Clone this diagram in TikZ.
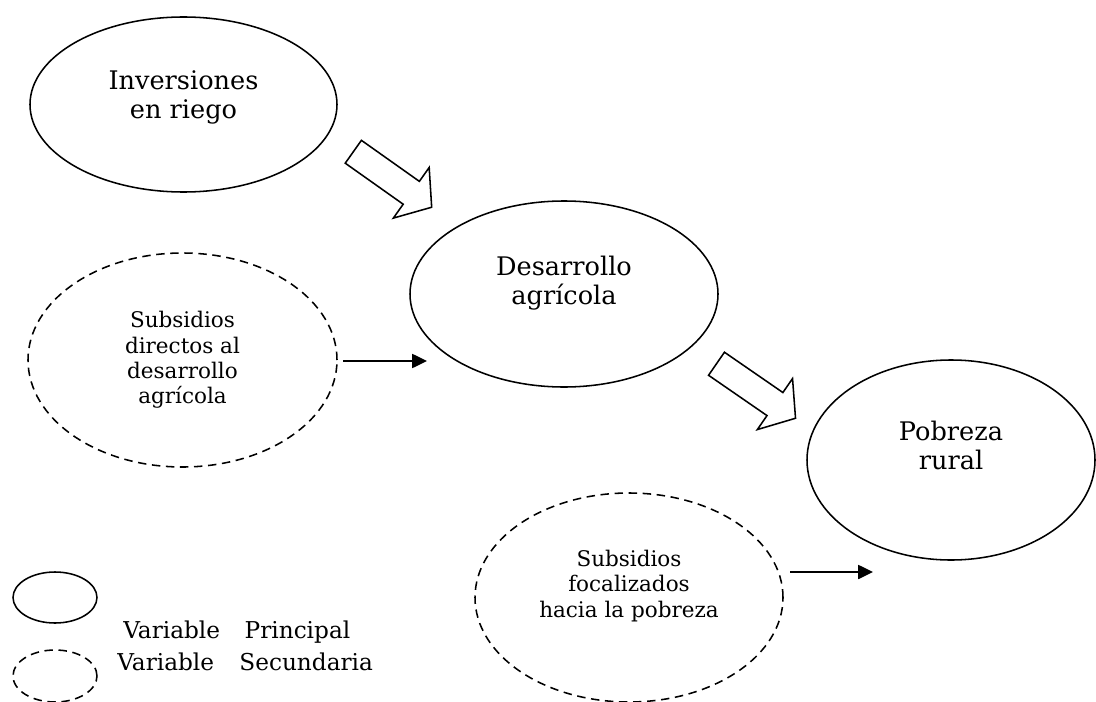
\documentclass[tikz,border=0pt]{standalone}
\usepackage{fontspec}
\setmainfont{DejaVu Serif}
\usetikzlibrary{shapes.geometric,arrows.meta}

\newcommand{\px}{0.025cm}
% flecha de bloque: centro, angulo
\newcommand{\flechagrande}[2]{%
  \draw[line width=1.1pt,line join=miter,shift={#1},rotate=#2]
    (-48,-14) -- (23,-14) -- (23,-31) -- (48,0) -- (23,31) -- (23,14) -- (-48,14) -- cycle;}

\tikzset{
  principal/.style={ellipse,draw,line width=1.1pt,inner sep=0pt},
  secundaria/.style={ellipse,draw,line width=1.1pt,inner sep=0pt,dash pattern=on 6pt off 4pt},
  grande/.style={align=center,font=\fontsize{18.2}{20.6}\selectfont},
  chico/.style={align=center,font=\fontsize{15.3}{18.1}\selectfont},
  leyenda/.style={anchor=west,inner sep=0pt,font=\fontsize{16.5}{19}\selectfont},
  flecha/.style={line width=1.1pt,-{Triangle[length=10.5pt,width=10pt]}}
}

\begin{document}
\begin{tikzpicture}[x=\px,y=-\px]
  \useasboundingbox (0,0) rectangle (1096,702);

  % variables principales
  \node[principal,minimum width=307*\px,minimum height=175*\px] (inv) at (183.5,104.5) {};
  \node[grande] (inv-t) at (183.5,97) {Inversiones\\en riego};
  \node[principal,minimum width=308*\px,minimum height=186*\px] (des) at (564,294) {};
  \node[grande] (des-t) at (564,283) {Desarrollo\\agrícola};
  \node[principal,minimum width=288*\px,minimum height=200*\px] (pob) at (951,460) {};
  \node[grande] (pob-t) at (951,445) {Pobreza\\rural};

  % variables secundarias
  \node[secundaria,minimum width=309*\px,minimum height=214*\px] (sub1) at (182.5,360) {};
  \node[chico] (sub1-t) at (182.5,360) {Subsidios\\directos al\\desarrollo\\agrícola};
  \node[secundaria,minimum width=308*\px,minimum height=209*\px] (sub2) at (629,597.5) {};
  \node[chico] (sub2-t) at (629,586) {Subsidios\\focalizados\\hacia la pobreza};

  % flechas
  \flechagrande{(392.5,179.5)}{-35.3}
  \flechagrande{(756,391)}{-34.6}
  \coordinate (ini1) at (343,361);
  \coordinate (fin1) at (427,361);
  \coordinate (ini2) at (790,572);
  \coordinate (fin2) at (873,572);
  \draw[flecha] (ini1) -- (fin1);
  \draw[flecha] (ini2) -- (fin2);

  % leyenda
  \node[principal,minimum width=84*\px,minimum height=51*\px] (ley1) at (55,597.5) {};
  \node[secundaria,minimum width=84*\px,minimum height=52*\px] (ley2) at (55,676) {};
  \node[leyenda] (ley1-t) at (123,632) {Variable\hspace{17.5pt}Principal};
  \node[leyenda] (ley2-t) at (117,662) {Variable\hspace{18pt}Secundaria};
\end{tikzpicture}
\end{document}
